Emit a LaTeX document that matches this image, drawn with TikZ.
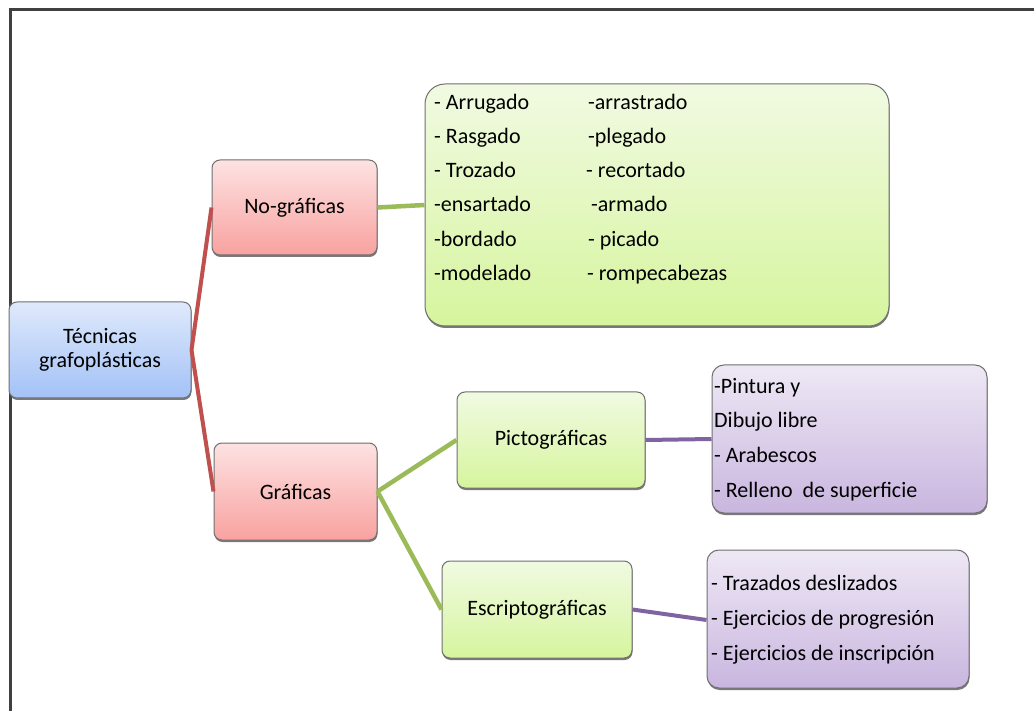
\documentclass[tikz,border=0pt]{standalone}
\usepackage{fontspec}
\setmainfont{Carlito}
\usetikzlibrary{shadows}
\definecolor{frameC}{HTML}{404040}
\definecolor{edgeC}{HTML}{707070}
\definecolor{blueT}{HTML}{DFE9FB}
\definecolor{blueB}{HTML}{A3C2F7}
\definecolor{pinkT}{HTML}{FDE2E2}
\definecolor{pinkB}{HTML}{F8A2A0}
\definecolor{greenT}{HTML}{F1FAE2}
\definecolor{greenB}{HTML}{D6F59E}
\definecolor{purpT}{HTML}{EEE8F5}
\definecolor{purpB}{HTML}{C9B6DF}
\definecolor{redL}{HTML}{C0504D}
\definecolor{greenL}{HTML}{9BBB59}
\definecolor{purpL}{HTML}{8064A2}
\tikzset{
  boxbase/.style={draw=edgeC, line width=1pt, rounded corners=8pt,
    drop shadow={shadow xshift=0.5pt, shadow yshift=-2pt, fill=black!65, opacity=0.8},
    align=center, inner sep=0pt, font=\fontsize{22}{24}\selectfont},
  bluebox/.style={boxbase, top color=blueT, bottom color=blueB},
  pinkbox/.style={boxbase, top color=pinkT, bottom color=pinkB},
  greenbox/.style={boxbase, top color=greenT, bottom color=greenB},
  purpbox/.style={boxbase, top color=purpT, bottom color=purpB},
  itemtext/.style={anchor=base west, inner sep=0pt, font=\fontsize{22}{24}\selectfont},
  redlink/.style={draw=redL, line width=4pt},
  greenlink/.style={draw=greenL, line width=4.5pt},
  purplink/.style={draw=purpL, line width=4pt},
}
\begin{document}
\begin{tikzpicture}[x=1pt,y=-1pt]
\useasboundingbox (0,0) rectangle (1034,711);
\fill[white] (0,0) rectangle (1034,711);
\draw[frameC, line width=3pt] (1034,9.5) -- (10,9.5) -- (10,711);

% boxes
\node[bluebox, minimum width=182pt, minimum height=96pt] (root) at (100,350) {Técnicas\\grafoplásticas};
\node[pinkbox, minimum width=165pt, minimum height=95pt] (nog) at (294.5,207.5) {No-gráficas};
\node[pinkbox, minimum width=163pt, minimum height=97pt] (graf) at (295.5,491.5) {Gráficas};
\node[greenbox, rounded corners=20pt, minimum width=464pt, minimum height=242pt] (list) at (657,205) {};
\node[greenbox, minimum width=188pt, minimum height=96pt] (pict) at (551,440) {Pictográficas};
\node[greenbox, minimum width=190pt, minimum height=97pt] (escr) at (537,609.5) {Escriptográficas};
\node[purpbox, rounded corners=12pt, minimum width=275pt, minimum height=148pt] (pur1) at (849.5,439) {};
\node[purpbox, rounded corners=12pt, minimum width=262pt, minimum height=138pt] (pur2) at (838,619) {};

% connectors
\draw[redlink] (root.east) -- (nog.west);
\draw[redlink] (root.east) -- (graf.west);
\draw[greenlink] (nog.east) -- (list.west);
\draw[greenlink] (graf.east) -- (pict.west);
\draw[greenlink] (graf.east) -- (escr.west);
\draw[purplink] (pict.east) -- (pur1.west);
\draw[purplink] (escr.east) -- (pur2.west |- 0,620);

% green list, left column
\node[itemtext] (l1) at (434,110) {- Arrugado};
\node[itemtext] (l2) at (434,144) {- Rasgado};
\node[itemtext] (l3) at (434,178) {- Trozado};
\node[itemtext] (l4) at (434,212) {-ensartado};
\node[itemtext] (l5) at (434,247) {-bordado};
\node[itemtext] (l6) at (434,281) {-modelado};
% right column
\node[itemtext] (r1) at (588,110) {-arrastrado};
\node[itemtext] (r2) at (588,144) {-plegado};
\node[itemtext] (r3) at (586,178) {- recortado};
\node[itemtext] (r4) at (591,212) {-armado};
\node[itemtext] (r5) at (588,247) {- picado};
\node[itemtext] (r6) at (587,281) {- rompecabezas};

% purple box 1
\node[itemtext] (p1) at (714,393) {-Pintura y};
\node[itemtext] (p2) at (714,427) {Dibujo libre};
\node[itemtext] (p3) at (714,462) {- Arabescos};
\node[itemtext] (p4) at (714,497) {- Relleno\ \ de superficie};

% purple box 2
\node[itemtext] (e1) at (711,590) {- Trazados deslizados};
\node[itemtext] (e2) at (711,625) {- Ejercicios de progresión};
\node[itemtext] (e3) at (711,660) {- Ejercicios de inscripción};
\end{tikzpicture}
\end{document}
